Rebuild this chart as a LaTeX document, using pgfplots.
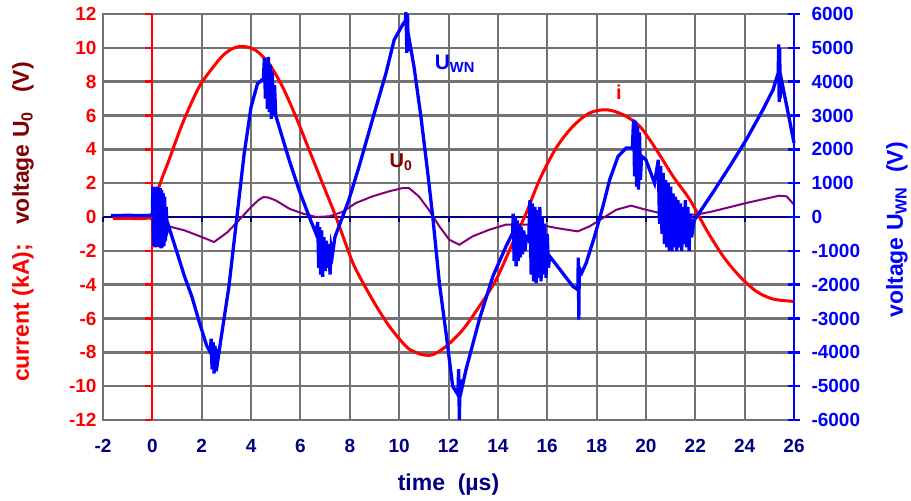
\documentclass[border=0pt]{standalone}
\usepackage{fontspec}
\setmainfont{Liberation Sans}
\usepackage{pgfplots}
\pgfplotsset{compat=1.18}
\definecolor{navyc}{RGB}{0,0,128}
\definecolor{maroonc}{RGB}{128,0,0}
\definecolor{purplec}{RGB}{128,0,128}
\definecolor{bluec}{RGB}{0,0,255}
\definecolor{redc}{RGB}{255,0,0}
\definecolor{gridc}{RGB}{115,115,118}
\begin{document}
\begin{tikzpicture}
\begin{axis}[
  scale only axis, width=691pt, height=406pt,
  xmin=-2, xmax=26, ymin=-12, ymax=12,
  xtick={-2,0,...,26}, ytick={-12,-10,...,12},
  xmajorgrids, ymajorgrids,
  x grid style={draw=gridc, line width=2pt},
  y grid style={draw=gridc, line width=2.6pt},
  axis line style={draw=gridc, line width=2.4pt},
  major tick length=0.01pt,
  xtick style={draw=none}, ytick style={draw=none},
  /pgf/number format/assume math mode=true,
  tick label style={font=\fontsize{19}{19}\selectfont\bfseries},
  xticklabel style={text=navyc, yshift=-16pt},
  yticklabel style={text=redc, xshift=-3pt},
  clip=false,
]
\coordinate (LL) at (rel axis cs:0,0);
\draw[navyc, line width=2.5pt] (axis cs:-2,0) -- (axis cs:26,0);
\pgfplotsinvokeforeach{-2,0,2,4,6,8,10,12,14,16,18,20,22,24,26}{
  \draw[navyc, line width=2pt] (axis cs:#1,0) -- ++(0pt,-5pt);
}
\draw[redc, line width=2pt] (axis cs:0,-12) -- (axis cs:0,12);
\pgfplotsinvokeforeach{-12,-10,-8,-6,-4,-2,0,2,4,6,8,10,12}{
  \draw[redc, line width=2.5pt] (axis cs:0,#1) -- ++(-7pt,0pt);
}
% U0 (purple)
\addplot[purplec, line width=2pt] coordinates {
(0.0,0) (0.2,-0.35) (0.6,-0.53) (0.77,-0.59) (1.3,-0.79) (2.0,-1.18) (2.5,-1.48)
(3.05,-0.89) (3.5,-0.2) (4.0,0.59) (4.3,1.0) (4.5,1.18) (4.7,1.15) (5.0,0.98) (5.55,0.49)
(6.1,0.2) (6.63,0) (7.17,0.04) (7.7,0.3) (8.25,0.83) (8.92,1.22) (9.6,1.52)
(10.14,1.71) (10.4,1.71) (10.8,1.22) (11.2,0.43) (11.63,-0.55) (12.03,-1.34)
(12.44,-1.64) (12.98,-1.14) (13.66,-0.75) (14.33,-0.45) (14.87,-0.45) (15.69,-0.45)
(16.36,-0.65) (17.24,-0.85) (17.72,-0.55) (18.26,-0.06) (18.8,0.43) (19.4,0.67)
(20.0,0.43) (20.83,0.14) (22.05,0.14) (22.7,0.33) (24.07,0.83) (25.4,1.26)
(25.7,1.22) (26.0,0.73)
};
% current i (red)
\addplot[redc, line width=3pt, smooth, tension=0.5] coordinates {
(-1.6,-0.1) (-1.0,-0.08) (-0.5,-0.1) (-0.1,-0.05) (0.0,0.0) (0.27,1.77) (0.67,3.35)
(1.22,5.52) (1.89,7.68) (2.57,9.06) (2.9,9.6) (3.24,9.95) (3.65,10.09) (4.19,9.85)
(4.73,9.06) (5.28,7.68) (5.82,5.91) (6.36,3.94) (6.9,1.97) (7.44,0) (7.98,-2.17)
(8.25,-3.11) (8.92,-4.89) (9.6,-6.46) (10.28,-7.65) (10.6,-7.95) (10.95,-8.14) (11.36,-8.14)
(11.9,-7.65) (12.58,-6.66) (13.25,-5.28) (13.93,-3.7) (14.6,-1.54) (15.15,0.24)
(15.69,2.2) (16.36,4.08) (17.04,5.36) (17.72,6.15) (18.4,6.34) (19.07,6.05)
(19.75,5.36) (20.42,3.98) (21.1,2.4) (21.78,1.02) (22.45,-0.75) (23.13,-2.33)
(23.8,-3.51) (24.47,-4.39) (25.15,-4.85) (26.0,-4.99)
};
\node[anchor=base west, text=bluec, font=\fontsize{21}{21}\selectfont\bfseries] at (axis cs:11.3,8.7) {U\textsubscript{WN}};
\node[anchor=base west, text=maroonc, font=\fontsize{20}{20}\selectfont\bfseries] at (axis cs:9.47,2.91) {U\textsubscript{0}};
\node[anchor=base, text=redc, font=\fontsize{20}{20}\selectfont\bfseries] at (axis cs:18.9,6.93) {i};
\end{axis}
\begin{axis}[
  scale only axis, width=691pt, height=406pt,
  xmin=-2, xmax=26, ymin=-6000, ymax=6000,
  axis x line=none, axis y line*=right,
  ytick={-6000,-5000,...,6000},
  scaled y ticks=false,
  /pgf/number format/.cd, 1000 sep={}, assume math mode=true, /pgfplots/.cd,
  y axis line style={bluec, line width=2.5pt},
  ytick style={bluec, line width=2.5pt},
  major tick length=12pt, tick align=center,
  tick label style={font=\fontsize{19}{19}\selectfont\bfseries},
  yticklabel style={text=bluec, xshift=8pt},
  clip=false,
]
\addplot[bluec, line width=3.3pt] coordinates {
(-1.68,40) (-1.0,50) (-0.3,40) (0.0,60)
(0.02,900) (0.05,-850) (0.08,880) (0.11,-900) (0.14,850) (0.17,-880) (0.20,900)
(0.23,-850) (0.26,820) (0.29,-900) (0.32,850) (0.35,-930) (0.38,800) (0.41,-900)
(0.44,700) (0.47,-850) (0.50,600) (0.53,-700) (0.56,300) (0.60,-400)
(0.65,-250) (1.0,-1050) (1.3,-1750) (1.6,-2350) (1.9,-3100) (2.2,-3800) (2.35,-4000)
(2.38,-3600) (2.42,-4500) (2.46,-3700) (2.50,-4630) (2.54,-3800) (2.58,-4550)
(2.62,-3900) (2.66,-4200) (2.77,-3650) (3.1,-2070) (3.41,-100) (3.72,1870)
(4.0,3250) (4.26,3940) (4.5,4090)
(4.54,4700) (4.58,3500) (4.62,4600) (4.66,3200) (4.70,4730) (4.74,3100) (4.78,4500)
(4.82,2900) (4.86,4300) (4.90,3000) (4.95,3900) (5.0,3000)
(5.14,2660) (5.55,1670) (5.95,790) (6.36,0) (6.63,-490)
(6.70,-150) (6.74,-1500) (6.78,-300) (6.82,-1700) (6.86,-400) (6.90,-1770)
(6.95,-600) (7.00,-1600) (7.05,-700) (7.10,-1500) (7.15,-800) (7.20,-1700)
(7.25,-900) (7.30,-1100) (7.4,-590) (7.96,500) (8.38,1500) (8.92,2880) (9.47,4260)
(9.8,5240) (10.14,5680) (10.25,5800) (10.28,6050) (10.31,4850) (10.34,6000)
(10.37,4900) (10.42,5200) (10.6,4450) (10.88,2980) (11.16,1300) (11.36,20)
(11.63,-1950) (11.9,-3430) (12.17,-5000) (12.38,-5250) (12.41,-4500) (12.44,-6000)
(12.47,-4800) (12.50,-5200) (12.71,-4510) (13.25,-3030) (13.8,-1750) (14.33,-870)
(14.6,-470)
(14.62,100) (14.66,-1300) (14.70,0) (14.74,-1460) (14.78,-100) (14.82,-1300)
(14.86,-200) (14.90,-1200) (14.95,-300) (15.00,-1100) (15.05,-400) (15.10,-1000)
(15.15,-600) (15.25,-700) (15.30,500) (15.35,-1700) (15.40,400) (15.45,-1900)
(15.50,300) (15.55,-1950) (15.60,200) (15.65,-1800) (15.70,300) (15.75,-1900)
(15.80,0) (15.85,-1700) (15.90,-200) (15.95,-1800) (16.00,-500) (16.05,-1500)
(16.1,-1160) (17.04,-2050) (17.24,-2150) (17.26,-1200) (17.28,-3030) (17.30,-1500)
(17.4,-1650) (17.58,-1360) (17.92,-570) (18.26,320) (18.53,1100) (18.87,1790)
(19.2,2040) (19.45,2040)
(19.50,2880) (19.54,1200) (19.58,2850) (19.62,900) (19.66,2700) (19.70,810)
(19.74,2500) (19.78,1100) (19.82,1800) (20.0,1690) (20.35,1000)
(20.50,1690) (20.55,-200) (20.60,1500) (20.65,-500) (20.70,1300) (20.75,-800)
(20.80,1100) (20.85,-900) (20.90,1000) (20.95,-1000) (21.00,900) (21.05,-1010)
(21.10,700) (21.15,-900) (21.20,600) (21.25,-1000) (21.30,500) (21.35,-900)
(21.40,400) (21.45,-1000) (21.50,300) (21.55,-800) (21.60,500) (21.65,-900)
(21.70,300) (21.75,-1000) (21.80,100) (21.85,-600) (21.95,-100) (22.05,0)
(22.7,710) (23.4,1500) (24.07,2290) (24.74,3170) (25.15,3760) (25.36,4260)
(25.38,5100) (25.40,3400) (25.42,5000) (25.44,3500) (25.48,4100) (25.7,3300) (26.0,2190)
};
\end{axis}
\node[rotate=90, font=\fontsize{23}{23}\selectfont\bfseries] at ([xshift=-80pt,yshift=198pt]LL)
  {\textcolor{redc}{current (kA);}\ \ \ \textcolor{maroonc}{voltage U\textsubscript{0}\ \ \ (V)}};
\node[rotate=90, text=bluec, font=\fontsize{23}{23}\selectfont\bfseries] at ([xshift=794pt,yshift=190pt]LL)
  {voltage U\textsubscript{WN}\hspace{14pt}(V)};
\node[text=navyc, font=\fontsize{23}{23}\selectfont\bfseries] at ([xshift=345.5pt,yshift=-65pt]LL)
  {time\ \ (µs)};
\pgfresetboundingbox
\path[use as bounding box] ([xshift=-103pt,yshift=-81pt]LL) rectangle ([xshift=808pt,yshift=420pt]LL);
\end{tikzpicture}
\end{document}
